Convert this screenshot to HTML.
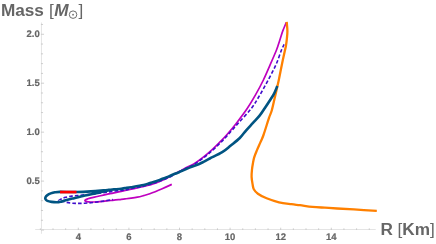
<!DOCTYPE html>
<html><head><meta charset="utf-8"><style>
html,body{margin:0;padding:0;background:#fff;}
svg{display:block;will-change:transform;transform:translateZ(0)}
text{font-family:"Liberation Sans",sans-serif;fill:#666;}
.t{font-size:9.5px;font-weight:bold;stroke:#666;stroke-width:0.2px;text-rendering:geometricPrecision;}
.l{font-size:17.2px;font-weight:bold;}
</style></head><body>
<svg width="436" height="244" viewBox="0 0 436 244">
<path d="M41.45 22.5V233.8M35.2 229.5H375.7" fill="none" stroke="#e4e4e4" stroke-width="1"/>
<path d="M40.95 230.05h3.1M40.95 220.26h2.1M40.95 210.47h2.1M40.95 200.68h2.1M40.95 190.89h2.1M40.95 181.10h3.1M40.95 171.31h2.1M40.95 161.52h2.1M40.95 151.73h2.1M40.95 141.94h2.1M40.95 132.15h3.1M40.95 122.36h2.1M40.95 112.57h2.1M40.95 102.78h2.1M40.95 92.99h2.1M40.95 83.20h3.1M40.95 73.41h2.1M40.95 63.62h2.1M40.95 53.83h2.1M40.95 44.04h2.1M40.95 34.25h3.1M40.95 24.46h2.1M40.35 230.0v-1.7M53.00 230.0v-1.7M65.65 230.0v-1.7M78.30 230.0v-2.3M90.95 230.0v-1.7M103.60 230.0v-1.7M116.25 230.0v-1.7M128.90 230.0v-2.3M141.55 230.0v-1.7M154.20 230.0v-1.7M166.85 230.0v-1.7M179.50 230.0v-2.3M192.15 230.0v-1.7M204.80 230.0v-1.7M217.45 230.0v-1.7M230.10 230.0v-2.3M242.75 230.0v-1.7M255.40 230.0v-1.7M268.05 230.0v-1.7M280.70 230.0v-2.3M293.35 230.0v-1.7M306.00 230.0v-1.7M318.65 230.0v-1.7M331.30 230.0v-2.3M343.95 230.0v-1.7M356.60 230.0v-1.7M369.25 230.0v-1.7" fill="none" stroke="#c4c4c4" stroke-width="0.8"/>
<text x="39.7" y="184.20" text-anchor="end" class="t">0.5</text>
<text x="39.7" y="135.25" text-anchor="end" class="t">1.0</text>
<text x="39.7" y="86.30" text-anchor="end" class="t">1.5</text>
<text x="39.7" y="37.35" text-anchor="end" class="t">2.0</text>
<text x="78.30" y="240.4" text-anchor="middle" class="t">4</text>
<text x="128.90" y="240.4" text-anchor="middle" class="t">6</text>
<text x="179.50" y="240.4" text-anchor="middle" class="t">8</text>
<text x="230.10" y="240.4" text-anchor="middle" class="t">10</text>
<text x="280.70" y="240.4" text-anchor="middle" class="t">12</text>
<text x="331.30" y="240.4" text-anchor="middle" class="t">14</text>
<g fill="none" stroke-linecap="butt" stroke-linejoin="round">
<path d="M286.30 22.40C285.72 23.82 283.78 28.25 282.80 30.90C281.82 33.55 281.22 35.78 280.40 38.30C279.58 40.82 278.58 43.97 277.90 46.00C277.22 48.03 277.60 47.35 276.30 50.50C275.00 53.65 272.25 59.98 270.10 64.90C267.95 69.82 265.83 75.00 263.40 80.00C260.97 85.00 258.20 90.15 255.50 94.90C252.80 99.65 250.35 103.83 247.20 108.50C244.05 113.17 240.03 118.48 236.60 122.90C233.17 127.32 229.43 131.75 226.60 135.00C223.77 138.25 222.05 139.92 219.60 142.40C217.15 144.88 214.62 147.43 211.90 149.90C209.18 152.37 206.32 154.85 203.30 157.20C200.28 159.55 196.43 162.37 193.80 164.00C191.17 165.63 189.43 166.02 187.50 167.00C185.57 167.98 185.35 168.20 182.20 169.90C179.05 171.60 172.97 175.03 168.60 177.20C164.23 179.37 160.17 181.35 156.00 182.90C151.83 184.45 147.73 185.47 143.60 186.50C139.47 187.53 134.30 188.43 131.20 189.10C128.10 189.77 126.67 190.12 125.00 190.50C123.33 190.88 123.03 191.02 121.20 191.40C119.37 191.78 116.07 192.38 114.00 192.80C111.93 193.22 110.57 193.52 108.80 193.90C107.03 194.28 105.33 194.67 103.40 195.10C101.47 195.53 99.27 196.05 97.20 196.50C95.13 196.95 92.53 197.43 91.00 197.80C89.47 198.17 89.02 198.28 88.00 198.70C86.98 199.12 85.13 199.82 84.90 200.30C84.67 200.78 85.58 201.32 86.60 201.60C87.62 201.88 89.23 201.97 91.00 202.00C92.77 202.03 95.13 201.92 97.20 201.80C99.27 201.68 101.47 201.48 103.40 201.30C105.33 201.12 107.03 200.88 108.80 200.70C110.57 200.52 111.93 200.43 114.00 200.20C116.07 199.97 119.37 199.52 121.20 199.30C123.03 199.08 123.33 199.08 125.00 198.90C126.67 198.72 129.13 198.48 131.20 198.20C133.27 197.92 135.33 197.63 137.40 197.20C139.47 196.77 141.53 196.18 143.60 195.60C145.67 195.02 146.70 194.85 149.80 193.70C152.90 192.55 158.53 190.25 162.20 188.70C165.87 187.15 170.20 185.12 171.80 184.40" stroke="#bf00bf" stroke-width="1.7"/>
<path d="M284.10 44.30C283.63 45.33 282.67 47.07 281.30 50.50C279.93 53.93 278.08 59.98 275.90 64.90C273.72 69.82 270.87 75.00 268.20 80.00C265.53 85.00 262.72 90.15 259.90 94.90C257.08 99.65 254.92 103.78 251.30 108.50C247.68 113.22 242.18 118.72 238.20 123.20C234.22 127.68 230.38 132.13 227.40 135.40C224.42 138.67 222.77 140.33 220.30 142.80C217.83 145.27 215.32 147.75 212.60 150.20C209.88 152.65 207.03 155.15 204.00 157.50C200.97 159.85 197.08 162.67 194.40 164.30C191.72 165.93 189.90 166.35 187.90 167.30C185.90 168.25 185.62 168.28 182.40 170.00C179.18 171.72 173.00 175.52 168.60 177.60C164.20 179.68 160.17 181.07 156.00 182.50C151.83 183.93 147.73 185.18 143.60 186.20C139.47 187.22 134.13 187.98 131.20 188.60C128.27 189.22 127.67 189.60 126.00 189.90C124.33 190.20 123.03 190.22 121.20 190.40C119.37 190.58 117.20 190.73 115.00 191.00C112.80 191.27 111.00 191.58 108.00 192.00C105.00 192.42 100.97 193.02 97.00 193.50C93.03 193.98 87.42 194.57 84.20 194.90C80.98 195.23 79.77 195.30 77.70 195.50C75.63 195.70 73.82 195.80 71.80 196.10C69.78 196.40 67.37 196.82 65.60 197.30C63.83 197.78 62.32 198.50 61.20 199.00C60.08 199.50 58.90 199.98 58.90 200.30C58.90 200.62 59.98 200.57 61.20 200.90C62.42 201.23 64.33 201.92 66.20 202.30C68.07 202.68 70.33 203.02 72.40 203.20C74.47 203.38 76.53 203.40 78.60 203.40C80.67 203.40 82.73 203.32 84.80 203.20C86.87 203.08 88.93 202.90 91.00 202.70C93.07 202.50 95.03 202.28 97.20 202.00C99.37 201.72 101.62 201.37 104.00 201.00C106.38 200.63 109.98 200.05 111.50 199.80C113.02 199.55 112.83 199.55 113.10 199.50" stroke="#3f0ccc" stroke-width="1.6" stroke-dasharray="3.6 2.1"/>
<path d="M286.70 21.90C286.82 23.40 287.37 28.17 287.40 30.90C287.43 33.63 287.15 35.78 286.90 38.30C286.65 40.82 286.25 43.88 285.90 46.00C285.55 48.12 285.48 47.85 284.80 51.00C284.12 54.15 282.80 60.07 281.80 64.90C280.80 69.73 279.87 75.00 278.80 80.00C277.73 85.00 276.55 89.90 275.40 94.90C274.25 99.90 272.97 106.17 271.90 110.00C270.83 113.83 270.40 113.73 269.00 117.90C267.60 122.07 264.93 130.92 263.50 135.00C262.07 139.08 261.47 139.92 260.40 142.40C259.33 144.88 258.13 147.42 257.10 149.90C256.07 152.38 254.90 155.03 254.20 157.30C253.50 159.57 253.27 161.48 252.90 163.50C252.53 165.52 252.22 167.17 252.00 169.40C251.78 171.63 251.50 174.42 251.60 176.90C251.70 179.38 252.23 182.25 252.60 184.30C252.97 186.35 252.92 187.63 253.80 189.20C254.68 190.77 255.77 192.18 257.90 193.70C260.03 195.22 263.08 196.87 266.60 198.30C270.12 199.73 274.87 201.32 279.00 202.30C283.13 203.28 287.90 203.72 291.40 204.20C294.90 204.68 296.50 204.77 300.00 205.20C303.50 205.63 308.27 206.38 312.40 206.80C316.53 207.22 320.67 207.42 324.80 207.70C328.93 207.98 332.33 208.22 337.20 208.50C342.07 208.78 347.40 209.00 354.00 209.40C360.60 209.80 373.00 210.65 376.80 210.90" stroke="#ff8000" stroke-width="2.3"/>
<path d="M277.30 86.00C276.77 87.27 275.40 91.10 274.10 93.60C272.80 96.10 271.03 98.60 269.50 101.00C267.97 103.40 266.52 105.60 264.90 108.00C263.28 110.40 261.78 112.92 259.80 115.40C257.82 117.88 255.27 120.42 253.00 122.90C250.73 125.38 248.40 127.78 246.20 130.30C244.00 132.82 242.37 135.47 239.80 138.00C237.23 140.53 233.73 143.13 230.80 145.50C227.87 147.87 225.70 150.03 222.20 152.20C218.70 154.37 212.83 156.93 209.80 158.50C206.77 160.07 205.87 160.65 204.00 161.60C202.13 162.55 201.40 163.03 198.60 164.20C195.80 165.37 190.47 167.25 187.20 168.60C183.93 169.95 181.07 171.43 179.00 172.30C176.93 173.17 176.57 173.08 174.80 173.80C173.03 174.52 170.47 175.77 168.40 176.60C166.33 177.43 164.47 178.02 162.40 178.80C160.33 179.58 158.07 180.58 156.00 181.30C153.93 182.02 152.07 182.48 150.00 183.10C147.93 183.72 146.73 184.32 143.60 185.00C140.47 185.68 134.30 186.68 131.20 187.20C128.10 187.72 126.67 187.85 125.00 188.10C123.33 188.35 123.03 188.48 121.20 188.70C119.37 188.92 116.07 189.20 114.00 189.40C111.93 189.60 110.57 189.73 108.80 189.90C107.03 190.07 106.37 190.15 103.40 190.40C100.43 190.65 95.48 191.13 91.00 191.40C86.52 191.67 81.70 191.92 76.50 192.00C71.30 192.08 63.40 191.85 59.80 191.90C56.20 191.95 56.42 192.05 54.90 192.30C53.38 192.55 51.95 192.93 50.70 193.40C49.45 193.87 48.27 194.47 47.40 195.10C46.53 195.73 45.82 196.52 45.50 197.20C45.18 197.88 45.18 198.58 45.50 199.20C45.82 199.82 46.38 200.45 47.40 200.90C48.42 201.35 50.08 201.67 51.60 201.90C53.12 202.13 54.98 202.32 56.50 202.30C58.02 202.28 59.32 202.08 60.70 201.80C62.08 201.52 62.85 201.13 64.80 200.60C66.75 200.07 69.07 199.45 72.40 198.60C75.73 197.75 80.67 196.43 84.80 195.50C88.93 194.57 94.10 193.67 97.20 193.00C100.30 192.33 101.27 191.98 103.40 191.50C105.53 191.02 108.90 190.33 110.00 190.10" stroke="#005482" stroke-width="2.6"/>
<path d="M60.05 192.05H76.5" stroke="#ff0000" stroke-width="2.7"/>
</g>
<text x="0.9" y="15.9" class="l">Mass</text>
<text x="49.0" y="15.9" class="l" font-weight="normal" style="font-weight:normal">[</text>
<text x="54.3" y="15.9" class="l" font-style="italic">M</text>
<circle cx="73.05" cy="14.65" r="3.75" fill="none" stroke="#666" stroke-width="0.95"/><circle cx="73.05" cy="14.65" r="0.85" fill="#666"/>
<text x="78.4" y="15.9" class="l" style="font-weight:normal">]</text>
<text x="380.4" y="235.2" class="l">R <tspan font-weight="normal">[</tspan>Km<tspan font-weight="normal">]</tspan></text>
</svg>
</body></html>
